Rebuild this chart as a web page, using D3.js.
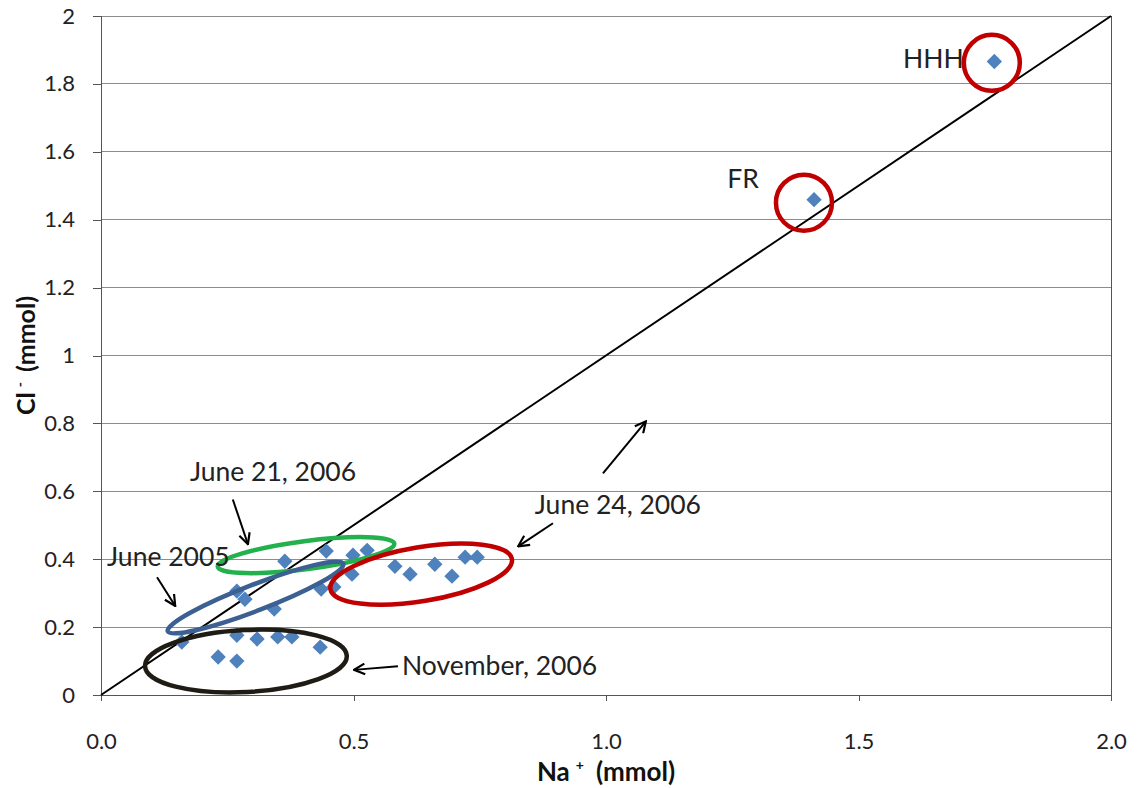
<!DOCTYPE html>
<html><head><meta charset="utf-8">
<script src="https://cdn.jsdelivr.net/npm/d3@7"></script>
<style>body{margin:0;background:#fff}svg{display:block}text{font-family:Lato,"Open Sans",sans-serif}</style>
</head><body>
<svg id="c" width="1144" height="788"></svg>
<script>
// data
const naValues = [0.160,0.232,0.269,0.269,0.309,0.350,0.378,0.434,0.269,0.285,0.343,0.364,0.446,0.436,0.461,0.497,0.499,0.527,0.582,0.612,0.661,0.695,0.721,0.745,1.412,1.769];
const clValues = [0.156,0.112,0.100,0.176,0.165,0.171,0.171,0.141,0.306,0.282,0.253,0.394,0.424,0.312,0.318,0.356,0.412,0.426,0.379,0.356,0.385,0.350,0.406,0.406,1.459,1.866];
const xTicks = [0,0.5,1.0,1.5,2.0];
const yTicks = [0,0.2,0.4,0.6,0.8,1,1.2,1.4,1.6,1.8,2];
const labelTexts = ["June 21, 2006","June 2005","June 24, 2006","November, 2006","FR","HHH"];
const labelNa = [0.176,0.012,0.859,0.596,1.240,1.588];
const labelCl = [0.629,0.379,0.532,0.059,1.494,1.847];
const arrowFromNa = [0.261,0.111,0.895,0.588,0.994];
const arrowFromCl = [0.576,0.347,0.506,0.085,0.653];
const arrowToNa = [0.291,0.147,0.826,0.501,1.079];
const arrowToCl = [0.444,0.262,0.438,0.074,0.806];
const ellipseNa = [0.406,0.306,0.634,0.287,1.392,1.764];
const ellipseCl = [0.412,0.287,0.356,0.100,1.450,1.862];

const ellipseStyle = [
  {rx:89,ry:14,rot:-7.4,color:"#22b14c"},
  {rx:94,ry:13,rot:-21,color:"#3c6091"},
  {rx:92,ry:27,rot:-9.4,color:"#c00000"},
  {rx:101,ry:31,rot:-3,color:"#1e1c14"},
  {rx:28,ry:28,rot:0,color:"#c00000"},
  {rx:28,ry:28,rot:0,color:"#c00000"}
];

const W=1144,H=788;
const m={left:101,top:16,right:33,bottom:93};
const svg=d3.select("#c");
const x=d3.scaleLinear().domain([0,2]).range([m.left,W-m.right]);
const y=d3.scaleLinear().domain([0,2]).range([H-m.bottom,m.top]);

// gridlines
svg.append("g").selectAll("line").data(yTicks.filter(d=>d>0)).join("line")
  .attr("x1",x(0)).attr("x2",x(2)).attr("y1",d=>y(d)).attr("y2",d=>y(d))
  .attr("stroke","#8c8c8c").attr("stroke-width",1).attr("shape-rendering","crispEdges");
// right border
svg.append("line").attr("x1",x(2)).attr("x2",x(2)).attr("y1",y(0)).attr("y2",y(2))
  .attr("stroke","#555").attr("stroke-width",1).attr("shape-rendering","crispEdges");

// axes
const yAxis=svg.append("g").attr("transform",`translate(${m.left},0)`)
  .call(d3.axisLeft(y).tickValues(yTicks).tickFormat(d=>d3.format("")(+d.toFixed(1))).tickSize(8).tickPadding(18));
const xAxis=svg.append("g").attr("transform",`translate(0,${H-m.bottom})`)
  .call(d3.axisBottom(x).tickValues(xTicks).tickFormat(d3.format(".1f")).tickSize(6).tickPadding(32));
[yAxis,xAxis].forEach(a=>{
  a.selectAll("path").attr("stroke","#555").attr("shape-rendering","crispEdges");
  a.selectAll("line").attr("stroke","#555").attr("shape-rendering","crispEdges");
  a.selectAll("text").attr("font-size",22).attr("fill","#222").style("font-family","Lato");
});

// 1:1 line
svg.append("line").attr("x1",x(0)).attr("y1",y(0)).attr("x2",x(2)).attr("y2",y(2))
  .attr("stroke","#000").attr("stroke-width",2);

// points
const pts=naValues.map((v,i)=>({na:v,cl:clValues[i]}));
svg.append("g").selectAll("path").data(pts).join("path")
  .attr("d",d3.symbol().type(d3.symbolDiamond2).size(150))
  .attr("transform",d=>`translate(${x(d.na)},${y(d.cl)})`)
  .attr("fill","#4f81bd");

// ellipses
svg.append("g").selectAll("ellipse").data(ellipseStyle).join("ellipse")
  .attr("transform",(d,i)=>`translate(${x(ellipseNa[i])},${y(ellipseCl[i])}) rotate(${d.rot})`)
  .attr("rx",d=>d.rx).attr("ry",d=>d.ry)
  .attr("fill","none").attr("stroke",d=>d.color).attr("stroke-width",4.5);

// arrows
const defs=svg.append("defs");
defs.append("marker").attr("id","ah").attr("viewBox","0 0 12 12").attr("refX",11).attr("refY",6)
  .attr("markerWidth",13).attr("markerHeight",13).attr("markerUnits","userSpaceOnUse").attr("orient","auto")
  .append("path").attr("d","M1,1 L11,6 L1,11").attr("fill","none").attr("stroke","#000").attr("stroke-width",2);
svg.append("g").selectAll("line").data(arrowFromNa).join("line")
  .attr("x1",(d,i)=>x(arrowFromNa[i])).attr("y1",(d,i)=>y(arrowFromCl[i]))
  .attr("x2",(d,i)=>x(arrowToNa[i])).attr("y2",(d,i)=>y(arrowToCl[i]))
  .attr("stroke","#000").attr("stroke-width",2).attr("marker-end","url(#ah)");

// labels
svg.append("g").selectAll("text").data(labelTexts).join("text")
  .attr("x",(d,i)=>x(labelNa[i])).attr("y",(d,i)=>y(labelCl[i]))
  .attr("font-size",26.5).attr("fill","#222").text(d=>d);

// axis titles
const xt=svg.append("text").attr("x",x(1)).attr("y",781).attr("text-anchor","middle")
  .attr("font-size",26).attr("font-weight","bold").attr("fill","#111");
xt.append("tspan").text("Na");
xt.append("tspan").attr("font-size",14).attr("dx",6).attr("dy",-11).text("+");
xt.append("tspan").attr("dx",12).attr("dy",11).text("(mmol)");
const yt=svg.append("text").attr("transform",`translate(35,${y(1)}) rotate(-90)`).attr("text-anchor","middle")
  .attr("font-size",25).attr("font-weight","bold").attr("fill","#111");
yt.append("tspan").text("Cl");
yt.append("tspan").attr("font-size",14).attr("dx",5).attr("dy",-10).text("-");
yt.append("tspan").attr("dx",10).attr("dy",10).text("(mmol)");
</script>
</body></html>
